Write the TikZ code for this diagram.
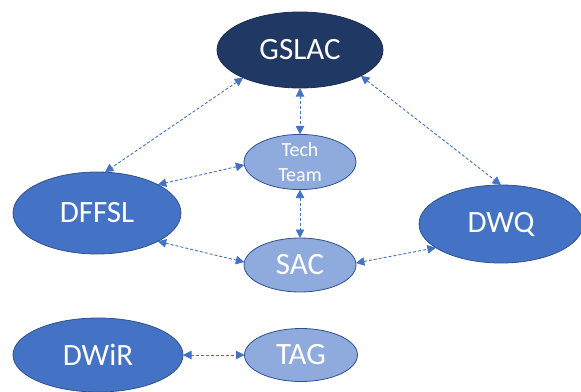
\documentclass[tikz,border=0pt]{standalone}
\usepackage{fontspec}
\setmainfont{Carlito}
\usetikzlibrary{shapes.geometric,arrows.meta}
\definecolor{navy}{HTML}{203864}
\definecolor{midblue}{HTML}{4472C4}
\definecolor{lightblue}{HTML}{8FAADC}
\definecolor{edgeblue}{HTML}{2F528F}
\tikzset{
  bubble/.style={ellipse, draw=edgeblue, line width=0.8pt, inner sep=0pt, outer sep=0pt,
    text=white, align=center},
  bigbubble/.style={bubble, fill=midblue, minimum width=168pt, minimum height=80pt,
    font=\fontsize{31}{36}\selectfont},
  smallbubble/.style={bubble, fill=lightblue, minimum width=112pt, minimum height=52pt,
    font=\fontsize{31}{36}\selectfont},
  link/.style={draw=midblue, line width=0.9pt, dash pattern=on 3pt off 2pt,
    {Triangle[length=8.5pt,width=8.5pt]}-{Triangle[length=8.5pt,width=8.5pt]}},
}
\begin{document}
\begin{tikzpicture}[x=1pt,y=-1pt]
  \useasboundingbox (0,0) rectangle (581,391);
  % top-level council
  \node[bubble, fill=navy, draw=navy!80!black, minimum width=166pt, minimum height=76pt,
        font=\fontsize{31}{36}\selectfont] (gslac) at (300,50) {GSLAC};
  % working groups
  \node[smallbubble, minimum height=49pt, font=\fontsize{20}{25}\selectfont] (tech) at (300,162) {Tech\\Team};
  \node[smallbubble, minimum height=54pt] (sac) at (300,265) {SAC};
  \node[bigbubble, minimum height=82pt] (dffsl) at (97,213) {DFFSL};
  \node[bigbubble, minimum width=164pt, minimum height=78pt] (dwq) at (501,224) {DWQ};
  \node[bigbubble, minimum width=170pt, minimum height=74pt] (dwir) at (98,355) {DWiR};
  \node[smallbubble, minimum width=113pt, minimum height=53pt] (tag) at (301,355) {TAG};
  % connections
  \draw[link] (gslac.206) -- (dffsl.79);
  \draw[link] (gslac.south) -- (tech.north);
  \draw[link] (gslac.337) -- (dwq.north);
  \draw[link] (tech.183) -- (dffsl.25);
  \draw[link] (tech.south) -- (sac.north);
  \draw[link] (dffsl.335) -- (sac.177);
  \draw[link] (sac.2) -- (dwq.200);
  \draw[link] (dwir.east) -- (tag.west);
\end{tikzpicture}
\end{document}
